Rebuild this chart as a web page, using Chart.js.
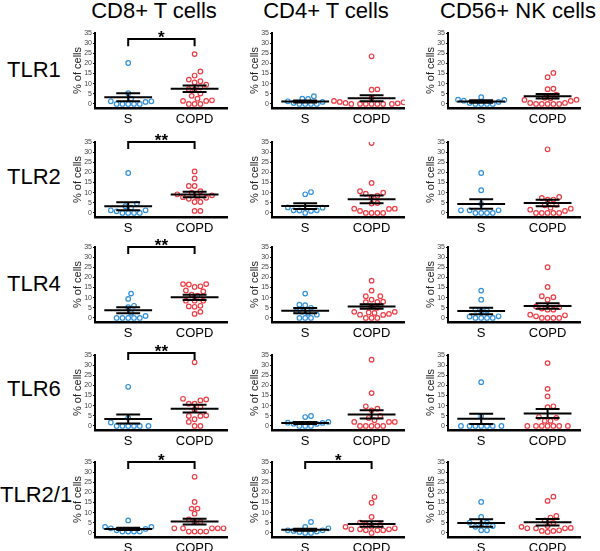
<!DOCTYPE html>
<html>
<head>
<meta charset="utf-8">
<script src="https://cdn.jsdelivr.net/npm/chart.js@4.4.1/dist/chart.umd.min.js"></script>
<style>
body { margin: 0; background: #fff; }
#fig { position: relative; width: 600px; height: 551px; overflow: hidden; font-family: 'Liberation Sans', Arial, sans-serif; }
.lbl { position: absolute; font-size: 22px; line-height: 22px; color: #000; white-space: nowrap; }
.panel { position: absolute; }
</style>
</head>
<body>
<div id="fig"></div>
<script>
const cellTypes = ['CD8+ T cells', 'CD4+ T cells', 'CD56+ NK cells'];
const receptors = ['TLR1', 'TLR2', 'TLR4', 'TLR6', 'TLR2/1'];
const groups = ['S', 'COPD'];
const yTicks = [0, 5, 10, 15, 20, 25, 30, 35];

// % of cells, one list per cell type: CD8, CD4, CD56
const tlr1S = [
    [20.2, 5.3, 2.6, 1.3, 1.3, 1, 0, 0, 0, 0, 0],
    [3.8, 2.6, 2.5, 1.3, 1, 0.5, 0, 0, 0, 0],
    [3.3, 2.1, 2, 1.6, 1, 0.5, 0, 0, 0, 0]
];
const tlr1COPD = [
    [24.6, 16, 14, 12, 11.2, 10.6, 9.5, 8.2, 7.3, 7.1, 5.1, 4, 2.6, 1.8, 1.5, 1.5, 0, 0, 0],
    [23.5, 7.2, 7, 3, 2, 1.5, 1.2, 1, 0.8, 0.5, 0.3, 0, 0, 0, 0, 0, 0, 0],
    [15.3, 13.2, 7.5, 7.3, 4.6, 3, 2.8, 2.1, 2, 1.5, 0.5, 0.5, 0, 0, 0, 0, 0]
];
const tlr2S = [
    [19.7, 4.6, 3.3, 2.6, 1.3, 1.3, 0.8, 0, 0, 0, 0],
    [10.3, 9.2, 2.7, 2.6, 1.3, 1.3, 1.2, 1, 0],
    [19.7, 11.2, 4.5, 1.3, 1.3, 1.3, 0, 0, 0, 0]
];
const tlr2COPD = [
    [20.5, 17, 13.3, 13.3, 10.7, 10, 9.2, 8.7, 8, 7.8, 7.5, 7, 5.4, 5.4, 1, 1],
    [34.5, 14.8, 10.7, 10, 9.5, 8.5, 7.9, 4.9, 4.6, 2.1, 2.1, 2, 1, 0, 0, 0, 0],
    [31.4, 7.9, 7.4, 6.6, 6.5, 4, 3.8, 2.6, 2.1, 1.6, 1, 0, 0, 0, 0, 0]
];
const tlr4S = [
    [12, 9.4, 6, 5.3, 2.5, 1, 0, 0, 0, 0, 0],
    [12, 6.5, 6.3, 5, 3.3, 3, 2.5, 1.6, 0, 0, 0],
    [13.5, 9, 4.1, 3.6, 3.3, 0.8, 0.7, 0, 0, 0, 0]
];
const tlr4COPD = [
    [16.7, 16.7, 16.5, 15.6, 15.3, 13.6, 13.1, 11.5, 11, 8.5, 8.5, 8.5, 6, 5.7, 5.5, 3, 2],
    [18.4, 13.5, 10.7, 10.7, 9, 8, 7.9, 7.8, 5.7, 5, 3, 3, 2.7, 2.5, 2, 1.6, 1.5, 0, 0, 0],
    [25, 15.3, 10.7, 10.2, 9, 5.7, 5.3, 4.6, 4.1, 4.1, 1.6, 1.3, 0.8, 0, 0, 0, 0]
];
const tlr6S = [
    [19.3, 4, 1.7, 0, 0, 0, 0, 0, 0],
    [4.9, 4.4, 2, 1.6, 1.5, 1.1, 1, 0, 0, 0],
    [21.6, 4.9, 0, 0, 0, 0, 0, 0, 0]
];
const tlr6COPD = [
    [31.4, 13.4, 13.1, 12.6, 11, 11, 9.3, 8, 5.2, 4.9, 4.9, 3.3, 2, 0, 0],
    [32.7, 16.2, 9.7, 8.5, 7.7, 4.9, 3.9, 2.8, 2, 2, 2, 0, 0, 0, 0, 0],
    [31, 18.3, 14.6, 9.7, 9.3, 4.4, 4, 2.5, 2.5, 0, 0, 0, 0, 0, 0, 0]
];
const tlr21S = [
    [6.2, 3, 3, 2.3, 2, 1.3, 0.7, 0.7, 0.7, 0.7],
    [5.4, 3, 2.3, 1.3, 1.3, 1, 0.7, 0.5, 0, 0],
    [15.3, 7.9, 5.1, 5.1, 4.5, 3.4, 3, 1.3, 1.3]
];
const tlr21COPD = [
    [27.7, 15.3, 12, 12, 9.5, 6.7, 5.4, 5.4, 2.3, 2.3, 2.3, 2.3, 2.3, 0.7, 0.7, 0.7, 0.7],
    [17.7, 14.9, 7.9, 5.1, 4.3, 4, 3, 3, 2.3, 1.8, 1.8, 1.8, 1.3, 1.3, 1.3, 0],
    [17.9, 15.8, 8.4, 7.6, 6.2, 5, 3.4, 3, 2.5, 2.3, 2.3, 2.3, 1.3, 1, 1, 0.5]
];

// mean and SEM bars as drawn (rows = receptors, cols = cell types)
const meanS = [[3.3, 1.2, 1.2], [3.3, 3.4, 4.4], [3.8, 3.6, 3.4], [3.4, 1.5, 3.5], [2.0, 1.6, 4.9]];
const semS = [[2.0, 0.5, 0.6], [2.0, 1.4, 2.3], [1.5, 1.3, 1.6], [2.2, 0.5, 2.5], [0.6, 0.5, 1.8]];
const meanCOPD = [[7.5, 2.8, 3.8], [9.1, 6.7, 4.9], [10.2, 5.6, 5.9], [8.5, 5.7, 6.1], [5.6, 4.4, 5.3]];
const semCOPD = [[1.6, 1.5, 1.1], [1.3, 1.9, 1.6], [1.3, 1.1, 1.4], [1.9, 2.0, 2.2], [1.4, 1.4, 1.6]];

// significance brackets: row, col, stars, height
const brackets = [[0, 0, '*', 32], [1, 0, '**', 35], [2, 0, '**', 35], [3, 0, '**', 36], [4, 0, '*', 35], [4, 1, '*', 35]];

const smokerRows = [tlr1S, tlr2S, tlr4S, tlr6S, tlr21S];
const copdRows = [tlr1COPD, tlr2COPD, tlr4COPD, tlr6COPD, tlr21COPD];

// layout
const colAxisX = [95, 272, 448];
const rowTopY = [33, 142, 247, 355, 462];
const titleX = [154, 326, 518];
const rowLabelY = [70, 177, 284, 389, 495];
const rowLabelX = [7, 7, 7, 7, 0];
const padTop = 14, yAxisW = 30, xAxisH = 24, plotW = 133, plotH = 75, padRight = 5;
const yMin = -2, yMax = 35;

const blue = '#2f8fd8';
const red = '#ee3b44';

Chart.defaults.font.family = "'Liberation Sans', Arial, sans-serif";

const fig = document.getElementById('fig');

cellTypes.forEach((t, c) => {
    const d = document.createElement('div');
    d.className = 'lbl';
    d.textContent = t;
    d.style.left = titleX[c] + 'px';
    d.style.top = '0px';
    d.style.transform = 'translateX(-50%)';
    fig.appendChild(d);
});
receptors.forEach((t, r) => {
    const d = document.createElement('div');
    d.className = 'lbl';
    d.textContent = t;
    d.style.left = rowLabelX[r] + 'px';
    d.style.top = (rowLabelY[r] - 11) + 'px';
    fig.appendChild(d);
});

// simple beeswarm: spread points sideways so circles don't overlap
function swarm(values, center) {
    const pxX = plotW / 2, pxY = plotH / (yMax - yMin), gap = 5.8;
    const placed = [];
    const idx = values.map((v, i) => i).sort((a, b) => values[a] - values[b]);
    const out = [];
    idx.forEach(i => {
        const y = values[i] * pxY;
        let off = 0;
        for (let k = 0; k < 80; k++) {
            const cand = (k % 2 ? 1 : -1) * Math.ceil(k / 2) * gap / 2;
            if (placed.every(p => Math.hypot(p[0] - cand, p[1] - y) >= gap)) { off = cand; break; }
        }
        placed.push([off, y]);
        out.push({ x: center + off / pxX, y: values[i] });
    });
    return out;
}

function summary(center, m, s) {
    const w = 0.36, cw = 0.18;
    return [
        { x: center - w, y: m }, { x: center + w, y: m }, { x: center, y: null },
        { x: center, y: m - s }, { x: center, y: m + s }, { x: center, y: null },
        { x: center - cw, y: m + s }, { x: center + cw, y: m + s }, { x: center, y: null },
        { x: center - cw, y: m - s }, { x: center + cw, y: m - s }
    ];
}

const starPlugin = {
    id: 'stars',
    afterDatasetsDraw(chart, args, opts) {
        if (!opts.text) return;
        const { ctx, scales: { x, y } } = chart;
        ctx.save();
        ctx.font = "bold 17px 'Liberation Sans', Arial, sans-serif";
        ctx.textAlign = 'center';
        ctx.textBaseline = 'alphabetic';
        ctx.fillStyle = '#000';
        ctx.fillText(opts.text, x.getPixelForValue(1.5), y.getPixelForValue(opts.at) + 4);
        ctx.restore();
    }
};

receptors.forEach((rec, r) => {
    cellTypes.forEach((cell, c) => {
        const wrap = document.createElement('div');
        wrap.className = 'panel';
        const W = yAxisW + plotW + padRight, H = padTop + plotH + xAxisH;
        wrap.style.left = (colAxisX[c] - yAxisW) + 'px';
        wrap.style.top = (rowTopY[r] - padTop) + 'px';
        const cv = document.createElement('canvas');
        cv.width = W; cv.height = H;
        wrap.appendChild(cv);
        fig.appendChild(wrap);

        const lineStyle = { type: 'scatter', showLine: true, spanGaps: false, pointRadius: 0, borderColor: '#000', borderWidth: 2, order: 0 };
        const datasets = [
            { ...lineStyle, data: summary(1, meanS[r][c], semS[r][c]) },
            { ...lineStyle, data: summary(2, meanCOPD[r][c], semCOPD[r][c]) },
            { type: 'scatter', data: swarm(smokerRows[r][c], 1), pointRadius: 2.3, pointBorderWidth: 1.2,
              borderColor: blue, backgroundColor: 'rgba(0,0,0,0)', order: 1 },
            { type: 'scatter', data: swarm(copdRows[r][c], 2), pointRadius: 2.3, pointBorderWidth: 1.2,
              borderColor: red, backgroundColor: 'rgba(0,0,0,0)', order: 1 }
        ];
        const br = brackets.find(b => b[0] === r && b[1] === c);
        if (br) {
            datasets.push({ ...lineStyle, clip: false, data: [
                { x: 1, y: br[3] - 3.5 }, { x: 1, y: br[3] }, { x: 2, y: br[3] }, { x: 2, y: br[3] - 3.5 }
            ] });
        }

        new Chart(cv.getContext('2d'), {
            type: 'scatter',
            data: { datasets },
            plugins: [starPlugin],
            options: {
                responsive: false,
                animation: false,
                layout: { padding: { top: padTop, right: padRight, left: 0, bottom: 0 } },
                plugins: {
                    legend: { display: false },
                    tooltip: { enabled: false },
                    stars: br ? { text: br[2], at: br[3] } : {}
                },
                scales: {
                    x: {
                        type: 'linear', min: 0.5, max: 2.5,
                        afterBuildTicks: s => { s.ticks = [{ value: 1 }, { value: 2 }]; },
                        afterFit: s => { s.height = xAxisH; },
                        ticks: { callback: v => groups[v - 1], font: { size: 13 }, color: '#000', padding: 4, autoSkip: false, maxRotation: 0 },
                        grid: { display: false, drawTicks: false, tickLength: 0 },
                        border: { display: true, color: '#000', width: 2.5 }
                    },
                    y: {
                        type: 'linear', min: yMin, max: yMax,
                        afterBuildTicks: s => { s.ticks = yTicks.map(v => ({ value: v })); },
                        afterFit: s => { s.width = yAxisW; },
                        ticks: { font: { size: 7 }, color: '#444', padding: 1, autoSkip: false },
                        grid: { drawOnChartArea: false, drawTicks: true, tickLength: 2, color: '#000', lineWidth: 1 },
                        border: { display: true, color: '#000', width: 2 },
                        title: { display: true, text: '% of cells', font: { size: 11 }, color: '#222', padding: { top: 6, bottom: 0 } }
                    }
                }
            }
        });
    });
});
</script>
</body>
</html>
